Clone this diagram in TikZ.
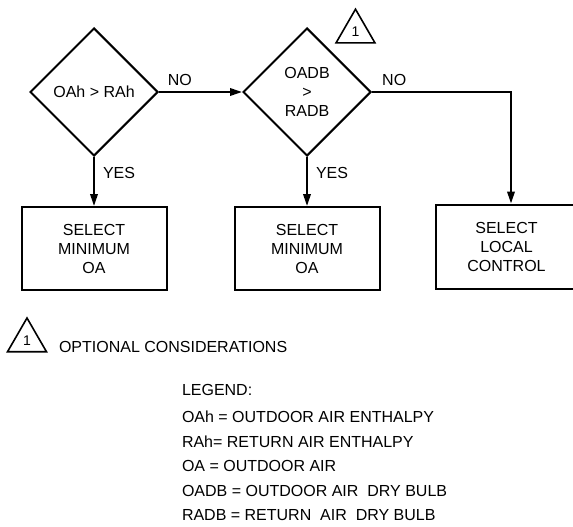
\documentclass[tikz,border=0pt]{standalone}
\usepackage{fontspec}
\setmainfont{Liberation Sans}
\usepackage{tikz}
\usetikzlibrary{positioning,shapes.geometric,arrows.meta}

\begin{document}
\begin{tikzpicture}[
  x=1pt, y=-1pt,
  font=\fontsize{16}{19}\selectfont,
  >={Triangle[length=12pt,width=7.5pt]},
  line width=2pt,
  decision/.style={
    draw, diamond, aspect=1,
    minimum width=128pt, minimum height=128pt,
    inner sep=0pt, align=center
  },
  actbox/.style={
    draw, rectangle,
    minimum width=145pt, minimum height=83pt,
    inner sep=0pt, align=center
  },
  note/.style={
    draw, regular polygon, regular polygon sides=3,
    minimum size=45pt, inner sep=0pt, line width=1.6pt,
    font=\fontsize{14}{14}\selectfont
  },
  lbl/.style={inner sep=2pt}
]
\useasboundingbox (0,0) rectangle (573,527);

% decisions
\node[decision] (dEnth) at (94,92) {OAh > RAh};
\node[decision, right=83pt of dEnth] (dDry) {OADB\\>\\RADB};
\node[note] (nTop) at (355.5,31.7) {1};

% actions
\node[actbox, below=49pt of dEnth] (bMin1) {SELECT\\MINIMUM\\OA};
\node[actbox, below=49pt of dDry] (bMin2) {SELECT\\MINIMUM\\OA};
\node[actbox, minimum width=142pt, minimum height=84pt,
      right=54pt of bMin2, yshift=2pt] (bLocal) {SELECT\\LOCAL\\CONTROL};

\draw[->] (dEnth.east) -- node[lbl, above, pos=0.25, yshift=3pt] {NO} (dDry.west);
\draw[->] (dEnth.south) -- node[lbl, right, pos=0.33, xshift=6pt] {YES} (dEnth.south |- bMin1.north);
\draw[->] (dDry.south) -- node[lbl, right, pos=0.33, xshift=6pt] {YES} (dDry.south |- bMin2.north);
\draw[->] (dDry.east) -- node[lbl, above, pos=0.16, yshift=3pt] {NO} ++(139,0) coordinate (cTurn)
  -- (cTurn |- bLocal.north);

% notes and legend
\node[note] (nBot) at (27,340.5) {1};
\node[anchor=base west, inner sep=0pt] (tOpt) at (58,352) {OPTIONAL CONSIDERATIONS};
\node[anchor=north west, inner sep=0pt, align=left,
      font=\fontsize{16}{24.5}\selectfont] (tLegend) at (181,383) {%
  LEGEND:\\[3pt]
  OAh = OUTDOOR AIR ENTHALPY\\
  RAh= RETURN AIR ENTHALPY\\
  OA = OUTDOOR AIR\\
  OADB = OUTDOOR AIR~~DRY BULB\\
  RADB = RETURN~~AIR~~DRY BULB};

\end{tikzpicture}
\end{document}
